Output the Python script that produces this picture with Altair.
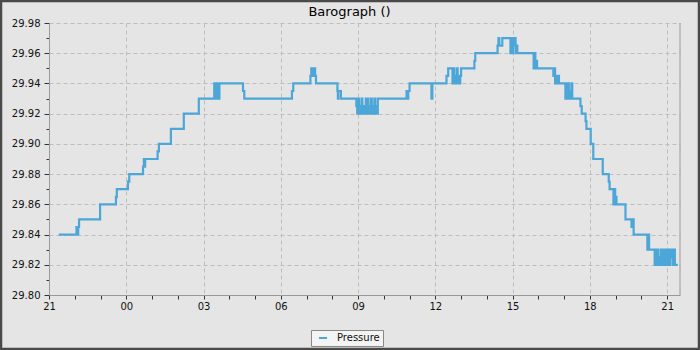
import altair as alt
import pandas as pd

# minutes after 21:00 on the first day (step change points)
minutes = [23, 64, 66, 68, 70, 119, 156, 158, 184, 187, 219, 221, 222, 224, 253, 256, 284, 314, 349,
           385, 387, 389, 391, 393, 395, 397, 452, 455, 566, 569,
           609, 611, 613, 618, 620, 622, 672, 673, 674, 680,
           716, 718, 720, 722, 724, 726, 728, 730, 732, 734, 736, 738, 740, 742, 744, 746, 748,
           750, 752, 754, 756, 758, 760, 762, 764, 766,
           833, 835, 837, 840, 891, 893, 926, 930,
           940, 942, 944, 946, 948, 950, 952, 954, 956, 958, 960,
           991, 993, 1045, 1047, 1049, 1056,
           1075, 1077, 1079, 1081, 1083, 1085, 1087, 1089, 1091,
           1129, 1131, 1133, 1135, 1137,
           1175, 1177, 1179, 1181, 1183, 1185, 1188,
           1203, 1205, 1207, 1209, 1211, 1213, 1215, 1217, 1219,
           1238, 1241, 1250, 1252, 1262, 1268, 1290, 1304, 1306,
           1315, 1317, 1319, 1321, 1322,
           1343, 1357, 1360, 1362,
           1394, 1396, 1398,
           1411, 1413, 1415, 1417, 1419, 1421, 1423, 1425, 1427, 1429, 1431, 1433, 1435, 1437, 1440,
           1444, 1446, 1448, 1450, 1452, 1454, 1456, 1458, 1465]

pressure = [29.84, 29.845, 29.84, 29.845, 29.85, 29.86, 29.865, 29.87, 29.875, 29.88,
            29.885, 29.89, 29.885, 29.89, 29.895, 29.90, 29.91, 29.92, 29.93,
            29.94, 29.93, 29.94, 29.93, 29.94, 29.93, 29.94, 29.935, 29.93, 29.935, 29.94,
            29.945, 29.95, 29.945, 29.95, 29.945, 29.94, 29.935, 29.93, 29.935, 29.93,
            29.925, 29.92, 29.93, 29.92, 29.925, 29.92, 29.93, 29.92, 29.925, 29.92, 29.925, 29.93, 29.92,
            29.93, 29.92, 29.925, 29.92, 29.93, 29.92, 29.925, 29.92, 29.93, 29.92, 29.925, 29.92, 29.93,
            29.935, 29.93, 29.935, 29.94, 29.93, 29.94, 29.945, 29.95,
            29.94, 29.95, 29.94, 29.945, 29.94, 29.95, 29.94, 29.945, 29.94, 29.945, 29.95,
            29.955, 29.96, 29.965, 29.97, 29.965, 29.97,
            29.96, 29.97, 29.96, 29.97, 29.965, 29.97, 29.96, 29.965, 29.96,
            29.95, 29.96, 29.95, 29.955, 29.95,
            29.945, 29.95, 29.94, 29.945, 29.94, 29.945, 29.94,
            29.93, 29.94, 29.93, 29.94, 29.93, 29.935, 29.93, 29.94, 29.93,
            29.925, 29.92, 29.915, 29.91, 29.90, 29.89, 29.88, 29.875, 29.87,
            29.86, 29.87, 29.86, 29.865, 29.86,
            29.85, 29.845, 29.85, 29.84,
            29.83, 29.84, 29.83,
            29.82, 29.83, 29.82, 29.83, 29.82, 29.825, 29.82, 29.83, 29.82, 29.825, 29.83, 29.82, 29.83, 29.83, 29.82,
            29.83, 29.82, 29.83, 29.825, 29.83, 29.82, 29.83, 29.82, 29.82]

series_name = ["Pressure"]
x_tick_minutes = [0, 60, 120, 180, 240, 300, 360, 420, 480, 540, 600, 660, 720, 780, 840, 900,
                  960, 1020, 1080, 1140, 1200, 1260, 1320, 1380, 1440]
y_tick_values = [29.80, 29.81, 29.82, 29.83, 29.84, 29.85, 29.86, 29.87, 29.88, 29.89, 29.90,
                 29.91, 29.92, 29.93, 29.94, 29.95, 29.96, 29.97, 29.98]

df = pd.DataFrame({"minute": minutes, "pressure": pressure})
df["series"] = series_name[0]

W, H = 631, 272
FONT = "DejaVu Sans"

x_major = "datum.value % 180 == 0"
y_major = "round(datum.value * 100) % 2 == 0"

x_axis = alt.Axis(
    values=x_tick_minutes,
    title=None,
    labelExpr="datum.value % 180 == 0 ? ((((21 + datum.value / 60) % 24) < 10 ? '0' : '') + ((21 + datum.value / 60) % 24)) : ''",
    grid=True,
    gridOpacity={"condition": {"test": x_major, "value": 1}, "value": 0},
    gridDash=[4, 3], gridColor="#bdbdbd", gridWidth=1,
    domainColor="#999999", tickColor="#333333", tickSize=4,
    labelFont=FONT, labelFontSize=10, labelColor="#111111", labelPadding=2,
    labelFlush=False, labelOverlap=False,
)
y_axis = alt.Axis(
    values=y_tick_values,
    title=None,
    labelExpr=y_major + " ? format(datum.value, '.2f') : ''",
    grid=True,
    gridOpacity={"condition": {"test": y_major, "value": 1}, "value": 0},
    gridDash=[4, 3], gridColor="#bdbdbd", gridWidth=1,
    tickSize={"condition": {"test": y_major, "value": 5}, "value": 3},
    domainColor="#999999", tickColor="#333333",
    labelFont=FONT, labelFontSize=10, labelColor="#111111", labelPadding=4,
    labelFlush=False, labelOverlap=False,
)

line = alt.Chart(df).mark_line(interpolate="step-after", strokeWidth=2.2, clip=True).encode(
    x=alt.X("minute:Q", scale=alt.Scale(domain=[0, 1470], nice=False, zero=False), axis=x_axis),
    y=alt.Y("pressure:Q", scale=alt.Scale(domain=[29.80, 29.98], nice=False, zero=False), axis=y_axis),
    color=alt.Color(
        "series:N",
        scale=alt.Scale(domain=series_name, range=["#4ca6d8"]),
        legend=alt.Legend(
            title=None, orient="none", legendX=262, legendY=307,
            fillColor="#f4f4f4", strokeColor="#888888", padding=3,
            symbolType="stroke", symbolStrokeWidth=2, symbolSize=64,
            symbolOffset=4, labelOffset=9,
            labelFont=FONT, labelFontSize=10, labelColor="#111111",
        ),
    ),
)

one = pd.DataFrame({"k": [0]})
right_edge = alt.Chart(one).mark_rule(color="#999999", strokeWidth=1).encode(
    x=alt.value(W), y=alt.value(0), y2=alt.value(H)
)
frame = alt.Chart(one).mark_rect(fillOpacity=0, stroke="#4a4a4a", strokeWidth=2.5).encode(
    x=alt.value(-48), x2=alt.value(650), y=alt.value(-22), y2=alt.value(326)
)

chart = alt.layer(right_edge, line, frame).properties(
    width=W, height=H,
    autosize=alt.AutoSizeParams(type="none"),
    padding={"left": 49, "top": 23, "right": 20, "bottom": 55},
    background="#e5e5e5",
    title=alt.TitleParams(
        "Barograph ()", font=FONT, fontSize=13, fontWeight="normal", color="#000000",
        anchor="middle", frame="group", dx=-15, dy=38, baseline="alphabetic", offset=9,
    ),
).configure_view(stroke="transparent")

chart.save("out.html", embed_options={"renderer": "svg", "actions": False})
